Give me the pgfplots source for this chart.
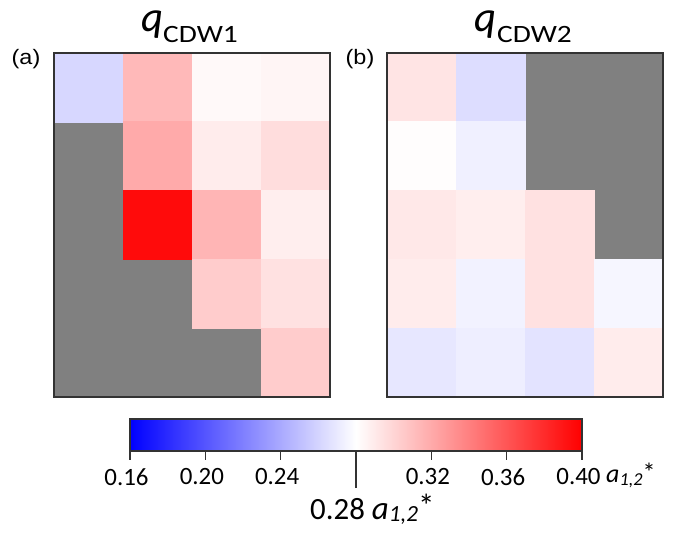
\documentclass[border=0pt]{standalone}
\usepackage{pgfplots}
\usepackage{pgfplotstable}
\pgfplotsset{compat=1.18}
\usepackage{fontspec}
\setmainfont{Carlito}
\newfontfamily\arial{Liberation Sans}

\pgfplotstableread{
x y v
0 0 0.261
1 0 0.313
2 0 0.283
3 0 0.285
1 1 0.320
2 1 0.289
3 1 0.296
1 2 0.395
2 2 0.315
3 2 0.288
2 3 0.304
3 3 0.294
3 4 0.304
}\tableA

\pgfplotstableread{
x y v
0 0 0.293
1 0 0.264
0 1 0.281
1 1 0.273
0 2 0.291
1 2 0.288
2 2 0.294
0 3 0.289
1 3 0.274
2 3 0.294
3 3 0.276
0 4 0.269
1 4 0.272
2 4 0.267
3 4 0.289
}\tableB

\newcommand\astar[1]{{\fontsize{#1}{#1}\selectfont\itshape a}\raisebox{-0.25em}{\fontsize{0.7\dimexpr#1\relax}{1}\selectfont\itshape 1,2}\raisebox{0.15em}{\fontsize{#1}{#1}\selectfont *}}

\begin{document}
\begin{tikzpicture}
\useasboundingbox (0,0) rectangle (673bp,535bp);
\pgfplotsset{
  colormap={bwr}{rgb=(0,0,1) rgb=(1,1,1) rgb=(1,0,0)},
  hm/.style={scale only axis, width=276bp, height=344bp,
    xmin=-0.5, xmax=3.5, ymin=-0.5, ymax=4.5, y dir=reverse,
    xtick=\empty, ytick=\empty,
    point meta min=0.16, point meta max=0.40,
    anchor=south west},
  hmdata/.style={hm, axis background/.style={fill=gray},
    axis line style={draw=none}, clip marker paths=true},
  hmframe/.style={hm, axis line style={line width=1.3bp, black!80}},
  cell/.style={scatter, only marks, mark=square*, mark size=34.6bp,
    scatter src=explicit,
    scatter/use mapped color={draw=mapped color, fill=mapped color}}
}
\begin{axis}[hmdata, at={(54bp,138bp)}]
\addplot[cell] table[x=x, y=y, meta=v] {\tableA};
\end{axis}
\begin{axis}[hmframe, at={(54bp,138bp)}]
\end{axis}
\begin{axis}[hmdata, at={(387bp,138bp)}]
\addplot[cell] table[x=x, y=y, meta=v] {\tableB};
\end{axis}
\begin{axis}[hmframe, at={(387bp,138bp)}]
\end{axis}

\begin{axis}[at={(130bp,84bp)}, anchor=south west, scale only axis,
  width=452bp, height=32bp,
  xmin=0.16, xmax=0.40, ymin=0, ymax=1,
  ytick=\empty,
  xtick={0.16,0.20,0.24,0.32,0.36,0.40},
  xticklabels={0.16,0.20,0.24,0.32,0.36,0.40},
  xtick pos=bottom,
  tick align=outside,
  major tick length=9bp,
  extra x ticks={0.28}, extra x tick labels={},
  extra x tick style={major tick length=37bp},
  tick style={line width=1.3bp, black!80},
  axis line style={line width=1.3bp, black!80},
  xticklabel style={font=\fontsize{25}{25}\selectfont, inner sep=0pt, yshift=-8bp, xshift=-3.5bp},
  axis background/.style={left color=blue, right color=red, middle color=white},
  axis on top]
\addplot[draw=none] coordinates {(0.16,0) (0.40,1)};
\end{axis}

\node[anchor=base west, inner sep=0pt] at (141bp,503bp) {{\fontsize{43}{43}\selectfont\itshape q}};
\node[anchor=base west, inner sep=0pt] at (163bp,492bp) {\scalebox{1.18}[1]{\fontsize{25}{25}\selectfont CDW1}};
\node[anchor=base west, inner sep=0pt] at (474bp,503bp) {{\fontsize{43}{43}\selectfont\itshape q}};
\node[anchor=base west, inner sep=0pt] at (497bp,492bp) {\scalebox{1.18}[1]{\fontsize{25}{25}\selectfont CDW2}};
\node[inner sep=0pt] at (26bp,476bp) {\scalebox{1.12}[1]{\arial\fontsize{21}{21}\selectfont (a)}};
\node[inner sep=0pt] at (360bp,476bp) {\scalebox{1.12}[1]{\arial\fontsize{21}{21}\selectfont (b)}};

\node[anchor=base west, inner sep=0pt] at (606bp,52bp) {\astar{26bp}};
\node[anchor=base west, inner sep=0pt] at (310bp,16bp) {{\fontsize{31}{31}\selectfont 0.28 }\astar{33bp}};
\end{tikzpicture}
\end{document}
